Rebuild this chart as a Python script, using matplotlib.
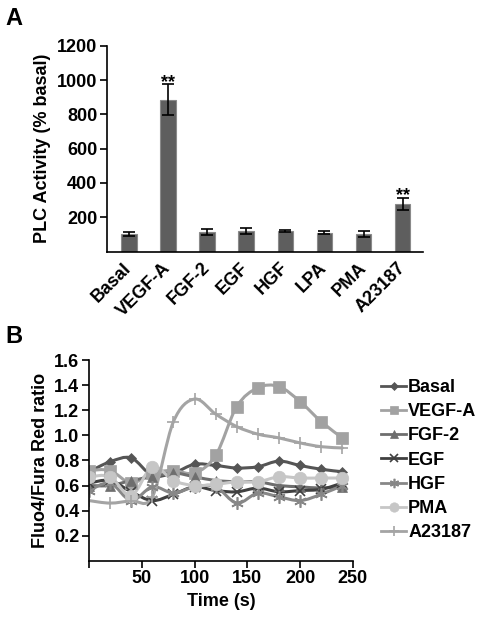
import numpy as np
import matplotlib
matplotlib.use('Agg')
import matplotlib.pyplot as plt
from matplotlib.path import Path
from matplotlib.patches import PathPatch
from matplotlib.lines import Line2D

plt.rcParams['font.family'] = ['Liberation Sans', 'DejaVu Sans']
plt.rcParams['font.weight'] = 'bold'

# panel A data
treatments = ['Basal', 'VEGF-A', 'FGF-2', 'EGF', 'HGF', 'LPA', 'PMA', 'A23187']
plc_mean = [100, 885, 112, 118, 120, 110, 100, 278]
plc_err = [12, 90, 18, 18, 5, 8, 18, 36]
signif = ['', '**', '', '', '', '', '', '**']

# panel B data
time_s = [0, 20, 40, 60, 80, 100, 120, 140, 160, 180, 200, 220, 240]
basal = [0.71, 0.79, 0.82, 0.68, 0.70, 0.77, 0.76, 0.74, 0.75, 0.795, 0.76, 0.73, 0.71]
vegfa = [0.72, 0.72, 0.62, 0.70, 0.72, 0.70, 0.84, 1.23, 1.38, 1.39, 1.27, 1.11, 0.98]
fgf2 = [0.60, 0.60, 0.64, 0.67, 0.70, 0.67, 0.64, 0.63, 0.63, 0.60, 0.59, 0.58, 0.59]
egf = [0.62, 0.64, 0.55, 0.48, 0.53, 0.59, 0.56, 0.55, 0.58, 0.55, 0.56, 0.57, 0.62]
hgf = [0.56, 0.62, 0.48, 0.59, 0.54, 0.59, 0.59, 0.46, 0.54, 0.51, 0.48, 0.53, 0.60]
pma = [0.67, 0.67, 0.52, 0.75, 0.64, 0.60, 0.61, 0.63, 0.63, 0.67, 0.66, 0.66, 0.66]
a23187 = [0.48, 0.46, 0.48, 0.51, 1.11, 1.29, 1.17, 1.07, 1.01, 0.98, 0.94, 0.91, 0.90]

series = [
    ('Basal', basal, '#555555', 'D', 5),
    ('VEGF-A', vegfa, '#a2a2a2', 's', 8),
    ('FGF-2', fgf2, '#6e6e6e', '^', 7),
    ('EGF', egf, '#404040', 'x', 7),
    ('HGF', hgf, '#878787', (6, 2, 0), 9),
    ('PMA', pma, '#c6c6c6', 'o', 9),
    ('A23187', a23187, '#a4a4a4', '+', 9),
]


def smooth_path(x, y):
    # catmull-rom segments as cubic bezier
    pts = np.column_stack([x, y]).astype(float)
    n = len(pts)
    verts = [pts[0]]
    codes = [Path.MOVETO]
    for i in range(n - 1):
        p0 = pts[max(i - 1, 0)]
        p1 = pts[i]
        p2 = pts[i + 1]
        p3 = pts[min(i + 2, n - 1)]
        c1 = p1 + (p2 - p0) / 6.0
        c2 = p2 - (p3 - p1) / 6.0
        verts += [c1, c2, p2]
        codes += [Path.CURVE4] * 3
    return Path(verts, codes)


fig = plt.figure(figsize=(4.84, 6.21), dpi=100)

# ---- A ----
ax = fig.add_axes([0.221, 0.595, 0.653, 0.331])
xpos = np.arange(len(treatments))
ax.bar(xpos, plc_mean, width=0.4, color='#5e5e5e', edgecolor='#8a8a8a', linewidth=0.8,
       yerr=plc_err, error_kw=dict(ecolor='black', elinewidth=1.2, capsize=4, capthick=1.2))
for i, s in enumerate(signif):
    if s:
        ax.annotate(s, (xpos[i], plc_mean[i] + plc_err[i]), xytext=(0, -2),
                    textcoords='offset points', ha='center', va='baseline',
                    fontsize=13, fontweight='bold')
ax.set_xlim(-0.56, 7.52)
ax.set_ylim(0, 1200)
ax.set_yticks([200, 400, 600, 800, 1000, 1200])
ax.set_xticks(xpos)
ax.set_xticklabels(treatments, rotation=45, ha='right', va='center', rotation_mode='anchor',
                   fontsize=13, fontweight='bold')
ax.tick_params(axis='x', length=0, pad=10)
ax.tick_params(axis='y', length=5, width=1.2, labelsize=13, pad=2)
for lab in ax.get_yticklabels():
    lab.set_fontweight('bold')
ax.set_ylabel('PLC Activity (% basal)', fontsize=13, fontweight='bold', labelpad=4)
for sp in ['top', 'right']:
    ax.spines[sp].set_visible(False)
for sp in ['left', 'bottom']:
    ax.spines[sp].set_linewidth(1.2)

# ---- B ----
bx = fig.add_axes([0.184, 0.097, 0.545, 0.323])
handles = []
for name, vals, col, mk, ms in series:
    patch = PathPatch(smooth_path(time_s, vals), facecolor='none', edgecolor=col, lw=2.2,
                      joinstyle='round', capstyle='round')
    bx.add_patch(patch)
    mew = 1.2 if mk in ('x', '+', (6, 2, 0)) else 0.5
    bx.plot(time_s, vals, ls='none', marker=mk, ms=ms, color=col, mec=col, mew=mew)
    handles.append(Line2D([0], [0], color=col, lw=2, marker=mk, ms=ms * 0.75, mec=col, mew=mew))

bx.set_xlim(0, 250)
bx.set_ylim(0, 1.6)
bx.set_xticks([0, 50, 100, 150, 200, 250])
bx.set_xticklabels(['', '50', '100', '150', '200', '250'], fontsize=13, fontweight='bold')
bx.set_yticks([0.2, 0.4, 0.6, 0.8, 1.0, 1.2, 1.4, 1.6])
bx.set_yticklabels(['0.2', '0.4', '0.6', '0.8', '1.0', '1.2', '1.4', '1.6'],
                   fontsize=13, fontweight='bold')
bx.tick_params(length=5, width=1.2, pad=2)
bx.set_xlabel('Time (s)', fontsize=13, fontweight='bold', labelpad=4)
bx.set_ylabel('Fluo4/Fura Red ratio', fontsize=13, fontweight='bold', labelpad=4)
for sp in ['top', 'right']:
    bx.spines[sp].set_visible(False)
for sp in ['left', 'bottom']:
    bx.spines[sp].set_linewidth(1.2)

fig.legend(handles, [s[0] for s in series], loc='upper left',
           bbox_to_anchor=(372 / 484, 1 - 370 / 621), frameon=False, borderpad=0,
           handlelength=1.4, handletextpad=0.1, labelspacing=0.40,
           prop={'size': 13, 'weight': 'bold'})

fig.text(0.012, 0.96, 'A', fontsize=17, fontweight='bold')
fig.text(0.012, 0.448, 'B', fontsize=17, fontweight='bold')

fig.savefig('out.png', dpi=100)
